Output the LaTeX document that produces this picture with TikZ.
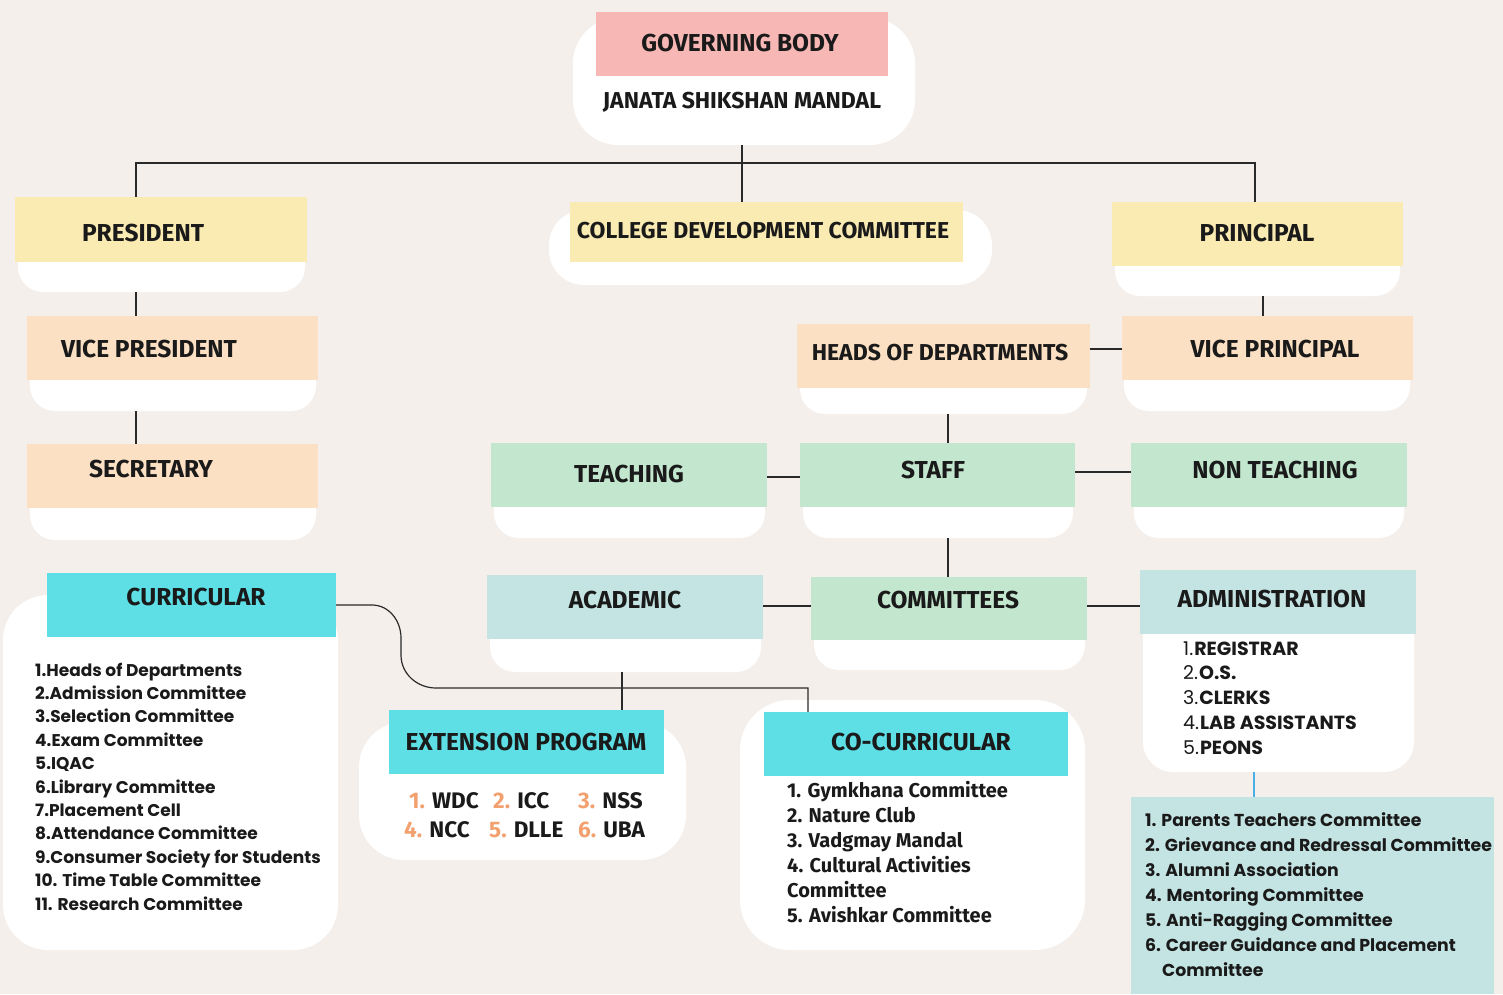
\documentclass[tikz,border=0pt]{standalone}
\usepackage{fontspec}
\usetikzlibrary{fit}
\newfontfamily\hf{Fira Sans}
\newfontfamily\pf{Poppins}
\definecolor{bgc}{HTML}{F5EFEB}
\definecolor{pinkc}{HTML}{F7B8B5}
\definecolor{yelc}{HTML}{F9EBB1}
\definecolor{peachc}{HTML}{FBE0C3}
\definecolor{greenc}{HTML}{C3E7CE}
\definecolor{tealc}{HTML}{C4E4E3}
\definecolor{cyanc}{HTML}{5DDFE5}
\definecolor{orangec}{HTML}{F2A06E}
\definecolor{bluec}{HTML}{4AB0E8}
\definecolor{linec}{HTML}{2A2A2A}
\definecolor{txt}{HTML}{1A1A1A}
\begin{document}
\begin{tikzpicture}[x=1pt,y=-1pt,
  wbox/.style={fill=white, draw=none, inner sep=0pt, rounded corners=#1},
  cbox/.style={fill=#1, draw=none, inner sep=0pt},
  htext/.style={font=\hf\bfseries\fontsize{24.5}{28}\selectfont, inner sep=0pt, text=txt},
  stext/.style={font=\hf\bfseries\fontsize{23}{27}\selectfont, inner sep=0pt, text=txt},
  ltext/.style={font=\pf\bfseries\fontsize{17}{20}\selectfont, inner sep=0pt, text=txt, anchor=base west},
  atext/.style={font=\pf\bfseries\fontsize{19}{22}\selectfont, inner sep=0pt, text=txt, anchor=base west},
  ptext/.style={font=\pf\bfseries\fontsize{17.3}{20}\selectfont, inner sep=0pt, text=txt, anchor=base west},
  ctext/.style={font=\hf\bfseries\fontsize{20}{24}\selectfont, inner sep=0pt, text=txt, anchor=base west},
  etext/.style={font=\hf\bfseries\fontsize{22.5}{26}\selectfont, inner sep=0pt, text=txt, anchor=base west},
  conn/.style={draw=linec, line width=1.2pt}]
\fill[bgc] (0,0) rectangle (1503,994);
\useasboundingbox (0,0) rectangle (1503,994);

% ---------- white backing shapes ----------
\node[wbox=45, fit={(573,18) (915,145)}] (gbw) {};
\node[wbox=25, fit={(18,215) (305,292)}] (presw) {};
\node[wbox=35, fit={(549,210) (992,285)}] (cdcw) {};
\node[wbox=25, fit={(1115,220) (1400,296)}] (prinw) {};
\node[wbox=25, fit={(30,335) (316,411)}] (vpw) {};
\node[wbox=25, fit={(30,460) (316,540)}] (secw) {};
\node[wbox=25, fit={(1124,335) (1410,411)}] (vprinw) {};
\node[wbox=25, fit={(800,340) (1087,414)}] (hodw) {};
\node[wbox=25, fit={(494,460) (765,538)}] (teachw) {};
\node[wbox=25, fit={(803,460) (1073,538)}] (staffw) {};
\node[wbox=25, fit={(1134,460) (1404,538)}] (ntw) {};
\node[wbox=25, fit={(490,590) (761,672)}] (acadw) {};
\node[wbox=25, fit={(814,590) (1085,670)}] (commw) {};
\node[wbox=30, fit={(1143,590) (1414,772)}] (adminw) {};
\node[wbox=45, fit={(3,595) (338,950)}] (currw) {};
\node[wbox=45, fit={(359,722) (686,860)}] (extw) {};
\node[wbox=50, fit={(740,700) (1085,950)}] (cocurw) {};

% ---------- coloured header boxes ----------
\node[cbox=pinkc, fit={(596,12) (888,76)}] (gb) {};
\node[cbox=yelc, fit={(15,197) (307,262)}] (pres) {};
\node[cbox=yelc, fit={(570,202) (963,262)}] (cdc) {};
\node[cbox=yelc, fit={(1112,202) (1403,266)}] (prin) {};
\node[cbox=peachc, fit={(27,316) (318,380)}] (vp) {};
\node[cbox=peachc, fit={(27,444) (318,508)}] (sec) {};
\node[cbox=peachc, fit={(1122,316) (1413,380)}] (vprin) {};
\node[cbox=peachc, fit={(797,324) (1090,388)}] (hod) {};
\node[cbox=greenc, fit={(491,443) (767,507)}] (teach) {};
\node[cbox=greenc, fit={(800,443) (1075,507)}] (staff) {};
\node[cbox=greenc, fit={(1131,443) (1407,507)}] (nt) {};
\node[cbox=tealc, fit={(487,575) (763,639)}] (acad) {};
\node[cbox=greenc, fit={(811,577) (1087,640)}] (comm) {};
\node[cbox=tealc, fit={(1140,570) (1416,634)}] (admin) {};
\node[cbox=cyanc, fit={(47,573) (336,637)}] (curr) {};
\node[cbox=cyanc, fit={(389,710) (664,774)}] (ext) {};
\node[cbox=cyanc, fit={(764,712) (1068,776)}] (cocur) {};
\node[cbox=tealc, fit={(1131,797) (1494,994)}] (ptc) {};

% ---------- heading texts ----------
\node[htext] (tgb) at (740,43) {GOVERNING BODY};
\node[stext] (tjsm) at (742,102) {JANATA SHIKSHAN MANDAL};
\node[htext] (tpres) at (143,233) {PRESIDENT};
\node[stext] (tcdc) at (763,231) {COLLEGE DEVELOPMENT COMMITTEE};
\node[htext] (tprin) at (1257,233) {PRINCIPAL};
\node[htext] (tvp) at (149,349) {VICE PRESIDENT};
\node[htext] (tsec) at (151,469) {SECRETARY};
\node[htext] (tvprin) at (1275,349) {VICE PRINCIPAL};
\node[stext] (thod) at (940,353) {HEADS OF DEPARTMENTS};
\node[htext] (tteach) at (629,474) {TEACHING};
\node[htext] (tstaff) at (933,470) {STAFF};
\node[htext] (tnt) at (1275,470) {NON TEACHING};
\node[htext] (tacad) at (625,600) {ACADEMIC};
\node[htext] (tcomm) at (948,600) {COMMITTEES};
\node[htext] (tadmin) at (1272,599) {ADMINISTRATION};
\node[htext] (tcurr) at (196,597) {CURRICULAR};
\node[htext] (text) at (526,742) {EXTENSION PROGRAM};
\node[htext] (tcocur) at (921,742) {CO-CURRICULAR};

% ---------- lists ----------
\foreach \t [count=\i] in {1.Heads of Departments,2.Admission Committee,3.Selection Committee,4.Exam Committee,5.IQAC,6.Library Committee,7.Placement Cell,8.Attendance Committee,9.Consumer Society for Students,10. Time Table Committee,11. Research Committee}
  \node[ltext] (cl\i) at (35,{676+23.4*(\i-1)}) {\t};

\foreach \t [count=\i] in {1. Gymkhana Committee,2. Nature Club,3. Vadgmay Mandal,4. Cultural Activities,Committee,5. Avishkar Committee}
  \node[ctext] (cc\i) at (787,{797+25*(\i-1)}) {\t};

\foreach \n/\t [count=\i] in {1./REGISTRAR,2./O.S.,3./CLERKS,4./LAB ASSISTANTS,5./PEONS}
  \node[atext] (al\i) at (1183,{655+24.75*(\i-1)}) {{\mdseries\n}\kern1pt\t};

\foreach \t [count=\i] in {1. Parents Teachers Committee,2. Grievance and Redressal Committee,3. Alumni Association,4. Mentoring Committee,5. Anti-Ragging Committee,6. Career Guidance and Placement}
  \node[ptext] (pl\i) at (1145,{826+25*(\i-1)}) {\t};
\node[ptext] (pl7) at (1162,976) {Committee};

\node[etext] (e1) at (409,808) {\textcolor{orangec}{1.} WDC};
\node[etext] (e2) at (493,808) {\textcolor{orangec}{2.} ICC};
\node[etext] (e3) at (578,808) {\textcolor{orangec}{3.} NSS};
\node[etext] (e4) at (404,837) {\textcolor{orangec}{4.} NCC};
\node[etext] (e5) at (489,837) {\textcolor{orangec}{5.} DLLE};
\node[etext] (e6) at (578,837) {\textcolor{orangec}{6.} UBA};

% ---------- connectors ----------
\coordinate (busL) at (136,163);
\coordinate (busM) at (742,163);
\coordinate (busR) at (1255,163);
\draw[conn] (busM |- gbw.south) -- (busM |- cdc.north);
\draw[conn] (busL |- pres.north) -- (busL) -- (busR) -- (busR |- prin.north);
\draw[conn] (busL |- presw.south) -- (busL |- vp.north);
\draw[conn] (busL |- vpw.south) -- (busL |- sec.north);
\coordinate (prx) at (1263,0);
\draw[conn] (prx |- prinw.south) -- (prx |- vprin.north);
\coordinate (hy) at (0,349);
\draw[conn] (hod.east |- hy) -- (vprin.west |- hy);
\coordinate (sx) at (948,0);
\draw[conn] (sx |- hodw.south) -- (sx |- staff.north);
\coordinate (ty) at (0,477);
\draw[conn] (teach.east |- ty) -- (staff.west |- ty);
\coordinate (ny) at (0,472);
\draw[conn] (staff.east |- ny) -- (nt.west |- ny);
\draw[conn] (sx |- staffw.south) -- (sx |- comm.north);
\coordinate (cy) at (0,606);
\draw[conn] (acad.east |- cy) -- (comm.west |- cy);
\draw[conn] (comm.east |- cy) -- (admin.west |- cy);
\coordinate (ax) at (1254,0);
\draw[draw=bluec, line width=2pt] (ax |- adminw.south) -- (ax |- ptc.north);
\coordinate (ex) at (622,0);
\draw[conn] (ex |- acadw.south) -- (ex |- ext.north);
\coordinate (ccx) at (808,688);
\draw[conn] (curr.east |- 0,605) -- (372,605) to[out=0,in=90] (401,638) -- (401,655)
  to[out=-90,in=180] (436,688) -- (ccx) -- (ccx |- cocur.north);
\end{tikzpicture}
\end{document}
